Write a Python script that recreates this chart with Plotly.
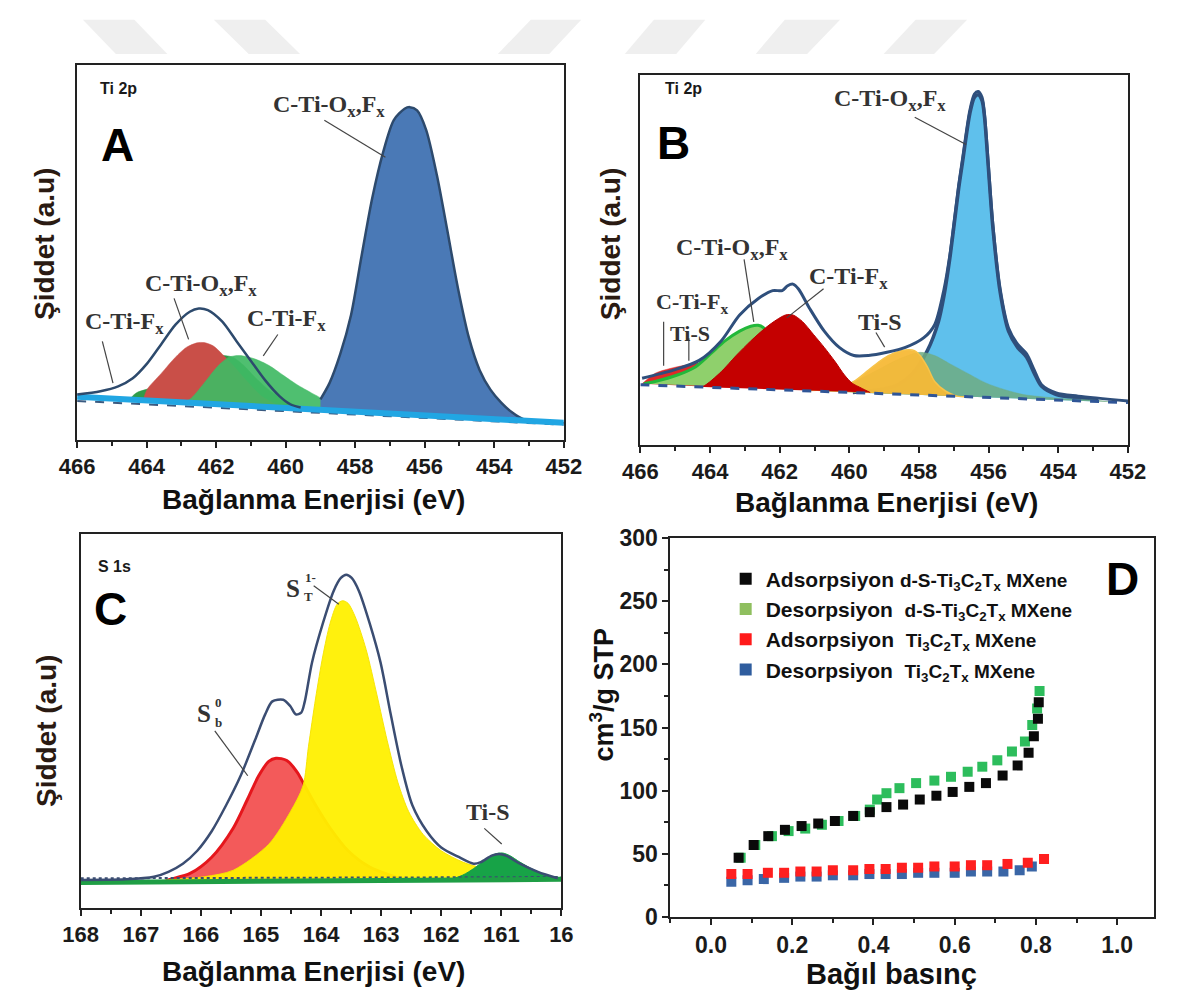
import plotly.graph_objects as go

W, H = 1177, 1005
SANS = "Liberation Sans, Arial, sans-serif"
SERIF = "Liberation Serif, Times New Roman, serif"

# ---------------- Panel A : Ti 2p (binding energy eV, intensity a.u.) ----------------
a_base_x = [466.0, 459.0, 452.0]
a_base_y = [13.3, 9.3, 5.3]
a_dash_y = [12.0, 8.4, 4.7]
a_env_x = [466.0, 465.33, 464.82, 464.40, 463.99, 463.58, 463.17, 462.76, 462.50, 462.24,
           461.83, 461.42, 461.01, 460.60, 460.18, 459.87, 459.57]
a_env_y = [14.0, 15.0, 16.5, 19.0, 23.5, 29.5, 35.5, 39.5, 40.5, 40.0,
           36.5, 30.5, 24.5, 18.5, 13.5, 11.0, 10.0]
a_main_x = [459.0, 458.74, 458.43, 458.12, 457.82, 457.51, 457.20, 456.89, 456.58, 456.43, 456.22,
            455.96, 455.65, 455.35, 455.04, 454.73, 454.42, 454.11, 453.80, 453.49, 453.18, 452.0, 459.0]
a_main_y = [12.5, 17.5, 26.5, 38.5, 56.5, 74.5, 88.5, 98.5, 102.0, 102.5, 101.5,
            95.5, 81.5, 64.5, 46.5, 31.5, 21.5, 15.5, 11.5, 8.5, 6.5, 5.3, 9.3]
a_red_x = [464.1, 463.99, 463.58, 463.17, 462.86, 462.55, 462.35, 462.09, 461.83, 461.52, 461.11, 460.70, 460.29, 460.0]
a_red_y = [12.2, 15.5, 20.5, 25.5, 28.5, 29.9, 30.0, 29.0, 26.5, 23.0, 18.0, 13.5, 11.0, 9.9]
a_grn1_x = [464.5, 464.30, 463.58, 463.07, 462.55, 462.14, 461.83, 461.52, 461.21, 460.90, 460.49, 460.08, 459.67, 459.5]
a_grn1_y = [12.4, 14.5, 17.0, 20.5, 24.0, 25.5, 26.0, 25.5, 23.0, 19.5, 15.5, 12.5, 10.5, 9.6]
a_grn2_x = [463.0, 462.76, 462.35, 461.93, 461.63, 461.32, 460.90, 460.49, 460.08, 459.67, 459.26, 458.95, 458.8]
a_grn2_y = [11.6, 12.5, 17.5, 23.0, 25.5, 26.0, 25.0, 23.0, 20.0, 17.0, 14.5, 12.5, 9.2]

# ---------------- Panel B : Ti 2p ----------------
b_base_x = [466.0, 452.0]
b_base_y = [18.5, 13.0]
b_env_x = [465.95, 465.05, 464.31, 463.68, 463.15, 462.62, 462.20, 461.93, 461.77, 461.62, 461.46,
           461.14, 460.72, 460.29, 459.87, 459.45, 458.92, 458.39, 457.86, 457.55, 457.28, 457.12,
           457.00, 456.86, 456.75, 456.54, 456.41, 456.30, 456.19, 456.12, 456.02, 455.88, 455.67,
           455.43, 455.17, 454.91, 454.69, 454.48, 454.06, 453.43, 452.0]
b_env_y = [20.5, 23.0, 26.0, 32.0, 40.0, 45.0, 47.5, 47.5, 49.0, 49.5, 48.0,
           42.0, 35.0, 30.0, 27.5, 27.5, 28.5, 30.0, 33.0, 37.0, 48.0, 58.0,
           68.0, 80.0, 88.0, 103.0, 108.0, 108.8, 107.0, 102.0, 88.0, 68.0, 48.0,
           36.0, 31.0, 28.0, 23.0, 18.5, 16.0, 15.0, 13.5]
b_main_x = [459.9, 458.71, 458.18, 457.76, 457.44, 457.28, 457.12, 457.00, 456.86, 456.75, 456.54,
            456.41, 456.30, 456.19, 456.12, 456.02, 455.88, 455.67, 455.43, 455.17, 454.91, 454.69,
            454.48, 454.06, 453.43, 452.90, 452.9]
b_main_y = [16.1, 18.0, 22.0, 29.0, 38.0, 46.0, 57.0, 67.0, 79.0, 87.0, 102.0,
            107.0, 107.8, 106.0, 101.0, 87.0, 67.0, 47.0, 35.0, 30.0, 27.0, 22.0,
            18.0, 15.5, 14.5, 14.0, 13.35]
b_olive_x = [460.6, 459.66, 459.03, 458.50, 457.97, 457.55, 457.12, 456.60, 456.07, 455.54, 455.01,
             454.48, 453.95, 452.90, 452.5]
b_olive_y = [16.4, 20.5, 24.0, 26.8, 28.5, 27.5, 25.0, 22.0, 19.0, 17.0, 15.5, 14.8, 14.3, 13.7, 13.2]
b_tis_x = [461.3, 460.29, 459.87, 459.45, 459.03, 458.71, 458.39, 458.13, 457.97, 457.76, 457.55, 457.23, 456.91, 456.6]
b_tis_y = [16.7, 17.5, 19.5, 23.0, 26.5, 28.3, 29.2, 29.0, 27.5, 24.0, 19.5, 16.5, 15.0, 14.8]
b_red_x = [464.4, 464.20, 463.68, 463.25, 462.83, 462.41, 462.09, 461.83, 461.62, 461.35, 461.03,
           460.72, 460.40, 460.14, 459.92, 459.66, 459.4]
b_red_y = [17.9, 18.0, 22.5, 27.5, 32.0, 36.0, 38.5, 40.0, 40.0, 38.0, 34.0, 30.0, 25.5, 21.5, 19.0, 17.5, 16.1]
b_grn_x = [465.9, 465.58, 464.94, 464.42, 463.99, 463.57, 463.15, 462.83, 462.62, 462.46, 462.35,
           462.20, 461.99, 461.77, 461.6]
b_grn_y = [18.8, 19.5, 21.5, 24.0, 28.0, 32.0, 35.0, 36.5, 36.8, 36.0, 34.0, 30.0, 25.0, 21.0, 17.2]
b_red2_x = [465.95, 465.58, 465.15, 464.73, 464.31, 464.05, 463.78, 463.46, 463.3]
b_red2_y = [18.8, 22.0, 23.5, 24.5, 25.2, 25.0, 23.0, 20.5, 17.5]

# ---------------- Panel C : S 1s ----------------
c_base_x = [168.0, 160.0]
c_base_y = [7.7, 8.7]
c_dash_y = [9.0, 9.4]
c_env_x = [168.00, 167.25, 166.78, 166.54, 166.30, 166.06, 165.82, 165.58, 165.34, 165.10, 164.93,
           164.81, 164.63, 164.51, 164.42, 164.33, 164.27, 164.15, 163.97, 163.79, 163.67, 163.58,
           163.49, 163.37, 163.19, 163.01, 162.84, 162.66, 162.48, 162.24, 162.00, 161.70, 161.46,
           161.34, 161.16, 161.04, 160.92, 160.69, 160.39, 160.06]
c_env_y = [8.5, 8.7, 9.5, 11.0, 13.5, 17.5, 23.5, 31.5, 40.5, 51.5, 59.5,
           63.5, 64.0, 62.0, 59.5, 60.0, 63.5, 75.5, 87.5, 97.5, 101.5, 102.5,
           101.5, 97.5, 87.5, 75.5, 59.5, 43.5, 31.5, 23.5, 18.5, 15.5, 13.5,
           14.0, 16.0, 16.5, 16.0, 13.5, 11.0, 9.0]
c_yel_x = [166.8, 166.54, 165.94, 165.46, 164.87, 164.51, 164.30, 164.21, 164.09, 163.97, 163.85,
           163.73, 163.64, 163.55, 163.43, 163.25, 163.07, 162.90, 162.72, 162.54, 162.30, 162.00,
           161.64, 161.28, 160.69, 160.21, 160.2]
c_yel_y = [7.9, 8.5, 9.5, 11.5, 19.5, 29.5, 37.5, 49.5, 64.5, 77.5, 87.5,
           93.5, 94.5, 93.7, 89.5, 79.5, 65.5, 51.5, 38.5, 29.5, 22.5, 17.5,
           14.0, 12.0, 10.0, 9.0, 8.6]
c_red_x = [166.6, 166.54, 166.18, 165.82, 165.46, 165.22, 165.04, 164.87, 164.75, 164.57, 164.39,
           164.27, 164.09, 163.85, 163.55, 163.19, 162.78, 162.6]
c_red_y = [7.9, 8.5, 10.5, 15.5, 24.5, 33.5, 40.5, 45.0, 46.0, 45.3, 41.5,
           37.5, 31.5, 24.5, 17.5, 12.5, 9.5, 8.3]
c_grn_x = [162.0, 161.88, 161.64, 161.46, 161.28, 161.10, 160.98, 160.86, 160.69, 160.45, 160.21, 160.06]
c_grn_y = [8.3, 8.5, 10.0, 12.0, 14.5, 16.5, 16.8, 16.0, 14.0, 11.5, 9.7, 8.7]

# ---------------- Panel D : isotherms (relative pressure, cm3/g STP) ----------------
d_ads_ds_x = [0.068, 0.105, 0.141, 0.182, 0.223, 0.264, 0.305, 0.350, 0.391, 0.432, 0.473,
              0.514, 0.555, 0.595, 0.636, 0.677, 0.718, 0.755, 0.782, 0.795, 0.805, 0.807]
d_ads_ds_y = [47, 57, 64, 69, 72, 74, 76, 80, 83, 87, 89, 93, 96, 99, 103, 106, 112, 120, 130, 143, 157, 170]
d_des_ds_x = [0.809, 0.803, 0.791, 0.773, 0.741, 0.705, 0.668, 0.632, 0.591, 0.550, 0.505, 0.464,
              0.432, 0.409, 0.391, 0.355, 0.314, 0.273, 0.232, 0.191, 0.150, 0.109, 0.073]
d_des_ds_y = [179, 165, 152, 139, 131, 124, 119, 115, 111, 108, 106, 102,
              98, 93, 85, 80, 76, 73, 70, 68, 64, 57, 47]
d_ads_m_x = [0.05, 0.09, 0.14, 0.18, 0.22, 0.26, 0.30, 0.35, 0.39, 0.43, 0.47, 0.51, 0.55, 0.60,
             0.64, 0.68, 0.73, 0.78, 0.82]
d_ads_m_y = [34, 34, 35, 35, 36, 36, 37, 37, 38, 38, 39, 39, 40, 40, 41, 41, 42, 43, 46]
d_des_m_x = [0.05, 0.09, 0.13, 0.18, 0.22, 0.26, 0.30, 0.35, 0.39, 0.43, 0.47, 0.51, 0.55, 0.60,
             0.64, 0.68, 0.72, 0.76, 0.79]
d_des_m_y = [28, 29, 30, 31, 32, 32, 33, 33, 34, 34, 34, 35, 35, 35, 36, 36, 36, 37, 40]

SUBF = "<span style='font-size:19px'><b>"
legend_names = [
    "<b>Adsorpsiyon</b> " + SUBF + "d-S-Ti<sub>3</sub>C<sub>2</sub>T<sub>x</sub> MXene</b></span>",
    "<b>Desorpsiyon</b>&nbsp; " + SUBF + "d-S-Ti<sub>3</sub>C<sub>2</sub>T<sub>x</sub> MXene</b></span>",
    "<b>Adsorpsiyon</b>&nbsp; " + SUBF + "Ti<sub>3</sub>C<sub>2</sub>T<sub>x</sub> MXene</b></span>",
    "<b>Desorpsiyon</b>&nbsp; " + SUBF + "Ti<sub>3</sub>C<sub>2</sub>T<sub>x</sub> MXene</b></span>",
]
legend_colors = ["#0a0a0a", "#8fbf5f", "#ff1a1a", "#2f5d9e"]

fig = go.Figure()


def poly(xs, ys, fill, line, lw, ax, smooth=0.8):
    fig.add_trace(go.Scatter(x=xs, y=ys, mode="lines", fill="toself", fillcolor=fill,
                             line=dict(color=line, width=lw, shape="spline", smoothing=smooth),
                             xaxis=ax[0], yaxis=ax[1], showlegend=False, hoverinfo="skip"))


def curve(xs, ys, color, lw, ax, dash="solid", shape="spline"):
    fig.add_trace(go.Scatter(x=xs, y=ys, mode="lines",
                             line=dict(color=color, width=lw, shape=shape, smoothing=0.8, dash=dash),
                             xaxis=ax[0], yaxis=ax[1], showlegend=False, hoverinfo="skip"))


AX_A, AX_B, AX_C, AX_D = ("x", "y"), ("x2", "y2"), ("x3", "y3"), ("x4", "y4")

# Panel A
poly(a_grn1_x, a_grn1_y, "#2f9c4a", "#2f9c4a", 0.5, AX_A)
poly(a_red_x, a_red_y, "#c94f48", "#c94f48", 0.5, AX_A)
poly(a_grn2_x, a_grn2_y, "rgba(64,186,100,0.92)", "rgba(64,186,100,0.9)", 0.5, AX_A)
poly(a_main_x, a_main_y, "#4a79b6", "#2d4a6d", 2.5, AX_A)
curve(a_base_x, a_dash_y, "#3a5a80", 2, AX_A, dash="dash", shape="linear")
curve(a_base_x, a_base_y, "#21a6e3", 6, AX_A, shape="linear")
curve(a_env_x, a_env_y, "#2d4a6d", 2.5, AX_A)

# Panel B
poly(b_main_x, b_main_y, "#5fc0ec", "#2f4f7c", 3.5, AX_B)
poly(b_olive_x, b_olive_y, "rgba(110,172,130,0.85)", "rgba(110,172,130,0.8)", 0.5, AX_B)
poly(b_tis_x, b_tis_y, "rgba(247,185,55,0.95)", "#f7c34a", 1.5, AX_B)
poly(b_red2_x, b_red2_y, "#e02828", "#e02828", 0.5, AX_B)
poly(b_grn_x, b_grn_y, "#8fd06c", "#22b83a", 3, AX_B)
poly(b_red_x, b_red_y, "#c40000", "#b80000", 1, AX_B)
curve(b_base_x, b_base_y, "#2f5597", 3, AX_B, dash="dash", shape="linear")
curve(b_env_x, b_env_y, "#2f4f7c", 3, AX_B)

# Panel C
poly(c_red_x, c_red_y, "#f35a5a", "#e5161c", 3, AX_C)
poly(c_yel_x, c_yel_y, "rgba(255,240,0,0.95)", "rgba(245,228,0,0.95)", 1, AX_C)
poly(c_grn_x, c_grn_y, "#17a347", "#17a347", 1, AX_C)
curve(c_base_x, c_dash_y, "#3b4d72", 2, AX_C, dash="dot", shape="linear")
curve(c_base_x, c_base_y, "#1f9e45", 5, AX_C, shape="linear")
curve(c_env_x, c_env_y, "#3b4d72", 2.5, AX_C)


# Panel D
def pts(xs, ys, color):
    fig.add_trace(go.Scatter(x=xs, y=ys, mode="markers",
                             marker=dict(symbol="square", size=10, color=color, line=dict(width=0)),
                             xaxis="x4", yaxis="y4", showlegend=False, hoverinfo="skip"))


pts(d_des_ds_x, d_des_ds_y, "#2dbd5c")
pts(d_ads_ds_x, d_ads_ds_y, "#0a0a0a")
pts(d_des_m_x, d_des_m_y, "#3a66a6")
pts(d_ads_m_x, d_ads_m_y, "#ff1f1f")

for i, (nm, col) in enumerate(zip(legend_names, legend_colors)):
    fig.add_trace(go.Scatter(x=[None], y=[None], mode="markers", name=nm, legendgroup=f"g{i}",
                             marker=dict(symbol="square", size=10, color=col),
                             xaxis="x4", yaxis="y4", showlegend=True))


# ---------------- layout ----------------
def dom_x(a, b):
    return [a / W, b / W]


def dom_y(top, bot):
    return [1 - bot / H, 1 - top / H]


TICKFONT = dict(family=SANS, size=22, color="#1a1a1a", weight="bold")
xbase = dict(showgrid=False, zeroline=False, showline=True, linecolor="#222", linewidth=2, mirror=True,
             ticks="outside", ticklen=6, tickwidth=2, tickcolor="#222", tickfont=TICKFONT,
             minor=dict(ticks="outside", ticklen=4, tickwidth=1.5, tickcolor="#222"))
ybase = dict(showgrid=False, zeroline=False, showline=True, linecolor="#222", linewidth=2, mirror=True,
             showticklabels=False, ticks="")
ti_ticks = [466, 464, 462, 460, 458, 456, 454, 452]

fig.update_layout(
    width=W, height=H, margin=dict(l=0, r=0, t=0, b=0),
    paper_bgcolor="white", plot_bgcolor="white",
    xaxis=dict(xbase, domain=dom_x(61, 563), range=[466, 452], tickvals=ti_ticks,
               minor=dict(xbase["minor"], dtick=1, tick0=452), anchor="y"),
    yaxis=dict(ybase, domain=dom_y(53.3, 438.3), range=[0, 115.5], anchor="x"),
    xaxis2=dict(xbase, domain=dom_x(642, 1145), range=[466, 452], tickvals=ti_ticks,
                minor=dict(xbase["minor"], dtick=1, tick0=452), anchor="y2"),
    yaxis2=dict(ybase, domain=dom_y(63.3, 443.3), range=[0, 114], anchor="x2"),
    xaxis3=dict(xbase, domain=dom_x(64.7, 560.5), range=[168, 160],
                tickvals=[168, 167, 166, 165, 164, 163, 162, 161, 160],
                ticktext=["168", "167", "166", "165", "164", "163", "162", "161", "16"],
                minor=dict(xbase["minor"], dtick=0.5, tick0=160), anchor="y3"),
    yaxis3=dict(ybase, domain=dom_y(535, 918.3), range=[0, 115], anchor="x3"),
    xaxis4=dict(xbase, domain=dom_x(673, 1171.5), range=[-0.1, 1.09], tickvals=[0, 0.2, 0.4, 0.6, 0.8, 1.0],
                ticktext=["0.0", "0.2", "0.4", "0.6", "0.8", "1.0"],
                tickfont=dict(TICKFONT, size=23),
                minor=dict(xbase["minor"], dtick=0.1, tick0=0), anchor="y4"),
    yaxis4=dict(xbase, domain=dom_y(539, 928), range=[0, 300], tickvals=[0, 50, 100, 150, 200, 250, 300],
                tickfont=dict(TICKFONT, size=23),
                minor=dict(xbase["minor"], dtick=25, tick0=0), anchor="x4"),
    legend=dict(x=730 / W, y=1 - 560 / H, xanchor="left", yanchor="top", bgcolor="rgba(0,0,0,0)",
                font=dict(family=SANS, size=21, color="#111"), traceorder="grouped", tracegroupgap=0,
                itemsizing="constant"),
    showlegend=True,
)

ann = []


def text(px, py, s, size, family=SANS, color="#111", angle=0, bold=True, xanchor="center", yanchor="middle"):
    ann.append(dict(x=px / W, y=1 - py / H, xref="paper", yref="paper", text=s, showarrow=False,
                    xanchor=xanchor, yanchor=yanchor, textangle=angle,
                    font=dict(family=family, size=size, color=color, weight="bold" if bold else "normal")))


# panel letters and headings
text(103, 135, "A", 46, color="#000")
text(676, 133, "B", 46, color="#000")
text(95, 612, "C", 46, color="#000")
text(1139, 581, "D", 46, color="#000")
text(104, 77, "Ti 2p", 16, color="#1a1a1a")
text(686, 78, "Ti 2p", 16, color="#1a1a1a")
text(100, 568, "S 1s", 16, color="#1a1a1a")

# axis titles
TC = "#2a1a12"
text(28, 237, "Şiddet (a.u)", 28, color=TC, angle=-90)
text(612, 237, "Şiddet (a.u)", 28, color=TC, angle=-90)
text(30, 737, "Şiddet (a.u)", 28, color=TC, angle=-90)
text(602, 700, "cm<sup>3</sup>/g STP", 27, color="#111", angle=-90)
text(305, 499, "Bağlanma Enerjisi (eV)", 28, color="#111")
text(896, 502, "Bağlanma Enerjisi (eV)", 28, color="#111")
text(305, 984, "Bağlanma Enerjisi (eV)", 28, color="#111")
text(901, 987, "Bağıl basınç", 29, color="#111")

# peak labels (serif)
LC = "#333333"
OXF = "C-Ti-O<sub>x</sub>,F<sub>x</sub>"
TIF = "C-Ti-F<sub>x</sub>"
text(321, 95, OXF, 24, SERIF, LC)
text(189, 279, OXF, 24, SERIF, LC)
text(277, 315, TIF, 24, SERIF, LC)
text(110, 318, TIF, 24, SERIF, LC)
text(899, 89, OXF, 24, SERIF, LC)
text(737, 242, OXF, 24, SERIF, LC)
text(857, 272, TIF, 24, SERIF, LC)
text(695, 314, TIF, 22, SERIF, LC, yanchor="bottom")
text(693, 314, "Ti-S", 22, SERIF, LC, yanchor="top")
text(889, 317, "Ti-S", 24, SERIF, LC)
text(284, 591, "S", 25, SERIF, LC)
text(302, 580, "1-", 13, SERIF, LC)
text(300, 599, "T", 13, SERIF, LC)
text(192, 719, "S", 25, SERIF, LC)
text(207, 708, "0", 13, SERIF, LC)
text(207, 728, "b", 13, SERIF, LC)
text(485, 820, "Ti-S", 24, SERIF, LC)

fig.update_layout(annotations=ann)

shapes = []


def seg(x0, y0, x1, y1):
    shapes.append(dict(type="line", xref="paper", yref="paper", x0=x0 / W, y0=1 - y0 / H, x1=x1 / W,
                       y1=1 - y1 / H, line=dict(color="#444", width=1.2)))


for s in [(316, 110, 379, 148), (161, 293, 176, 335), (268, 330, 253, 352), (87, 337, 98, 380),
          (925, 107, 978, 135), (749, 253, 759, 317), (831, 283, 793, 313), (666, 317, 666, 362),
          (692, 334, 692, 357), (885, 328, 894, 343),
          (305, 588, 331, 607), (203, 737, 237, 783), (481, 837, 499, 853)]:
    seg(*s)

# faint watermark bands at the top
for (t0, t1, b0, b1) in [(67, 120, 101, 154), (202, 255, 238, 291), (529, 581, 495, 548),
                         (656, 709, 626, 679), (791, 848, 761, 814), (926, 979, 893, 945)]:
    yt, yb = 1 - 7 / H, 1 - 42 / H
    path = f"M {t0 / W},{yt} L {t1 / W},{yt} L {b1 / W},{yb} L {b0 / W},{yb} Z"
    shapes.append(dict(type="path", xref="paper", yref="paper", path=path,
                       fillcolor="#efefef", line=dict(width=0), layer="below"))

fig.update_layout(shapes=shapes)

fig.write_html("out.html")
